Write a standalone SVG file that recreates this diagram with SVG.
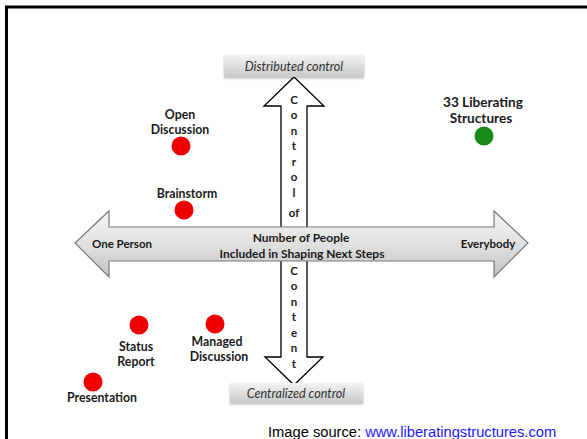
<svg xmlns="http://www.w3.org/2000/svg" width="587" height="439" viewBox="0 0 587 439">
  <defs>
    <linearGradient id="boxGrad" x1="0" y1="0" x2="0" y2="1">
      <stop offset="0" stop-color="#f3f3f3"/>
      <stop offset="1" stop-color="#c9c9c9"/>
    </linearGradient>
    <linearGradient id="hArrowGrad" x1="0" y1="0" x2="0" y2="1">
      <stop offset="0" stop-color="#f6f6f6"/>
      <stop offset="0.55" stop-color="#dedede"/>
      <stop offset="1" stop-color="#c2c2c2"/>
    </linearGradient>
    <filter id="shadow" x="-10%" y="-30%" width="120%" height="170%">
      <feDropShadow dx="0" dy="1.5" stdDeviation="1.2" flood-color="#000" flood-opacity="0.25"/>
    </filter>
    <style>
      .lbl { font-family: Lato, "Liberation Sans", sans-serif; font-weight: bold; font-size: 11.5px; fill: #1a1a1a; text-anchor: middle; }
      .mid { font-size: 12px; }
      .node { font-size: 12.3px; }
      .big { font-size: 13.6px; }
      .ital { font-family: Lato, "Liberation Sans", sans-serif; font-style: italic; font-size: 12.6px; fill: #333; text-anchor: middle; }
      .red { fill: #ee0000; }
      .green { fill: #1a8a1a; }
      .box { fill: url(#boxGrad); filter: url(#shadow); }
    </style>
  </defs>

  <rect width="587" height="439" fill="#fff"/>
  <path d="M6.5,439 L6.5,7 L587,7" fill="none" stroke="#000" stroke-width="3"/>

  <g id="axes">
    <g id="vertical-axis">
      <path d="M294,77 L324,106 L307,106 L307,357 L323,357 L294,385 L265,357 L281,357 L281,106 L264,106 Z" fill="#fff" stroke="#000" stroke-width="1.3" stroke-linejoin="miter"/>
      <g class="lbl">
        <text x="294" y="103.5">C</text>
        <text x="294" y="119">o</text>
        <text x="294" y="134.5">n</text>
        <text x="294" y="150">t</text>
        <text x="294" y="165.5">r</text>
        <text x="294" y="181">o</text>
        <text x="294" y="196.5">l</text>
        <text x="294" y="216.5">of</text>
        <text x="294" y="274.5">C</text>
        <text x="294" y="290">o</text>
        <text x="294" y="305.5">n</text>
        <text x="294" y="321">t</text>
        <text x="294" y="336.5">e</text>
        <text x="294" y="352">n</text>
        <text x="294" y="367.5">t</text>
      </g>
    </g>
    <g id="horizontal-axis">
      <path d="M75,243 L109,211 L109,227 L494,227 L494,211 L528,243 L494,277 L494,261 L109,261 L109,277 Z" fill="url(#hArrowGrad)" stroke="#7a7a7a" stroke-width="1.2"/>
      <text class="lbl" x="122" y="248">One Person</text>
      <text class="lbl" x="488" y="248">Everybody</text>
      <text class="lbl mid" x="301" y="242">Number of People</text>
      <text class="lbl mid" x="302" y="257.5">Included in Shaping Next Steps</text>
    </g>
  </g>

  <g id="distributed-control">
    <rect class="box" x="224" y="55" width="140" height="22"/>
    <text class="ital" x="294" y="70.5">Distributed control</text>
  </g>
  <g id="centralized-control">
    <rect class="box" x="230" y="383" width="133" height="20"/>
    <text class="ital" x="296" y="397.5">Centralized control</text>
  </g>

  <g id="open-discussion">
    <text class="lbl node" x="180" y="119">Open</text>
    <text class="lbl node" x="180" y="134">Discussion</text>
    <circle class="red" cx="181" cy="146" r="9.5"/>
  </g>
  <g id="brainstorm">
    <text class="lbl node" x="187" y="197.5">Brainstorm</text>
    <circle class="red" cx="184" cy="210" r="9.5"/>
  </g>
  <g id="status-report">
    <circle class="red" cx="139" cy="325" r="9.5"/>
    <text class="lbl node" x="136" y="351">Status</text>
    <text class="lbl node" x="136" y="366">Report</text>
  </g>
  <g id="managed-discussion">
    <circle class="red" cx="215" cy="324" r="9.5"/>
    <text class="lbl node" x="217" y="346">Managed</text>
    <text class="lbl node" x="219" y="361">Discussion</text>
  </g>
  <g id="presentation">
    <circle class="red" cx="93" cy="382" r="9.5"/>
    <text class="lbl node" x="102" y="402">Presentation</text>
  </g>
  <g id="liberating-structures">
    <text class="lbl big" x="483" y="106.5">33 Liberating</text>
    <text class="lbl big" x="481" y="123">Structures</text>
    <circle class="green" cx="484" cy="136" r="9.5"/>
  </g>

  <g id="connectors"></g>

  <text x="268" y="437" font-family="'Liberation Sans', Arial, sans-serif" font-size="14.7" fill="#000">Image source: <tspan fill="#1a1aff">www.liberatingstructures.com</tspan></text>
</svg>
